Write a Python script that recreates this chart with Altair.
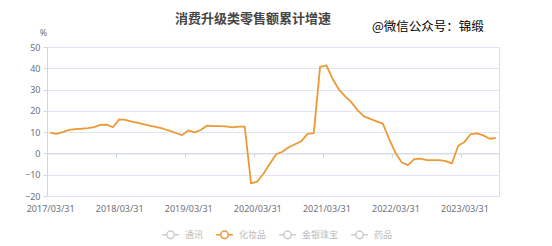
import altair as alt
import pandas as pd

# ---- data ----
years = [2017, 2018, 2019, 2020, 2021, 2022, 2023]
months_by_year = {
    2017: ["03", "04", "05", "06", "07", "08", "09", "10", "11", "12"],
    2018: ["02", "03", "04", "05", "06", "07", "08", "09", "10", "11", "12"],
    2019: ["02", "03", "04", "05", "06", "07", "08", "09", "10", "11", "12"],
    2020: ["02", "03", "04", "05", "06", "07", "08", "09", "10", "11", "12"],
    2021: ["02", "03", "04", "05", "06", "07", "08", "09", "10", "11", "12"],
    2022: ["02", "03", "04", "05", "06", "07", "08", "09", "10", "11", "12"],
    2023: ["02", "03", "04", "05", "06", "07", "08"],
}
month_end = {"02": "28", "03": "31", "04": "30", "05": "31", "06": "30", "07": "31",
             "08": "31", "09": "30", "10": "31", "11": "30", "12": "31"}

v2017 = [9.8, 9.2, 10.0, 11.1, 11.4, 11.6, 11.9, 12.4, 13.4, 13.5]
v2018 = [12.3, 16.0, 15.8, 14.9, 14.3, 13.6, 13.0, 12.4, 11.6, 10.7, 9.6]
v2019 = [8.6, 10.8, 9.9, 11.0, 13.1, 12.8, 12.8, 12.7, 12.2, 12.6, 12.6]
v2020 = [-14.1, -13.2, -9.4, -4.8, -0.4, 0.8, 2.9, 4.3, 5.7, 9.2, 9.5]
v2021 = [40.7, 41.4, 35.0, 30.0, 26.8, 24.0, 20.2, 17.4, 16.2, 15.1, 14.0]
v2022 = [6.8, 0.3, -4.2, -5.5, -2.7, -2.4, -3.1, -3.1, -3.1, -3.6, -4.7]
v2023 = [3.6, 5.4, 9.1, 9.4, 8.5, 6.9, 7.3]

series_names = ["通讯", "化妆品", "金银珠宝", "药品"]
series_colors = ["#cccccc", "#EC9A35", "#cccccc", "#cccccc"]
shown_series = "化妆品"

x_labels = ["2017/03/31", "2018/03/31", "2019/03/31", "2020/03/31",
            "2021/03/31", "2022/03/31", "2023/03/31"]
y_ticks = [-20, -10, 0, 10, 20, 30, 40, 50]

title_text = "消费升级类零售额累计增速"
watermark = "@微信公众号：锦缎"

# ---- build table ----
dates = []
for y in years:
    for m in months_by_year[y]:
        d = month_end[m]
        if m == "02" and y == 2020:
            d = "29"
        dates.append(f"{y}/{m}/{d}")
values = v2017 + v2018 + v2019 + v2020 + v2021 + v2022 + v2023
df = pd.DataFrame({"date": dates, "value": values, "series": shown_series})

FONT = "Noto Sans CJK SC"
NUM_FONT = "Noto Sans"
AXIS_GRAY = "#6E7079"
GRID = "#E0E6F1"
LINE_C = "#CFD6E4"
PLOT_H = 149

x_scale = alt.Scale(type="point", domain=dates, padding=0.5)
y_scale = alt.Scale(domain=[-20, 50], nice=False, zero=False)

y_axis = alt.Axis(values=y_ticks, title="%", titleAngle=0,
                  titleAlign="center", titleBaseline="middle",
                  titleX=-4, titleY=-15, titleColor=AXIS_GRAY,
                  titleFontSize=9, titleFontWeight="normal", titleFont=NUM_FONT,
                  labelFontSize=9, labelColor=AXIS_GRAY, labelFont=NUM_FONT,
                  labelPadding=3, labelOverlap=False, tickSize=4, tickColor=LINE_C,
                  domainColor=LINE_C, grid=True, gridColor=GRID)

line = alt.Chart(df).mark_line(strokeWidth=1.8, strokeJoin="round").encode(
    x=alt.X("date:O", scale=x_scale,
            axis=alt.Axis(values=x_labels, title=None, orient="bottom",
                          labelAngle=0, labelFontSize=9, labelColor=AXIS_GRAY,
                          labelFont=NUM_FONT, labelPadding=8, ticks=False, domain=False,
                          grid=False, labelOverlap=False)),
    y=alt.Y("value:Q", scale=y_scale, axis=y_axis),
    color=alt.Color("series:N",
                    scale=alt.Scale(domain=series_names, range=series_colors),
                    legend=alt.Legend(
                        title=None, orient="none", direction="horizontal",
                        legendX=114, legendY=178,
                        symbolType="M-1,0L-0.45,0M0.45,0L1,0M0.45,0A0.45,0.45,0,1,1,-0.45,0A0.45,0.45,0,1,1,0.45,0Z",
                        symbolSize=279, symbolStrokeWidth=1.5, symbolFillColor="white",
                        labelFontSize=9, labelFont=FONT, labelColor="#bbbbbb",
                        labelOffset=5, columnPadding=9)),
)

# zero axis line with ticks (x axis sits on 0)
zero_axis = alt.Chart(df).mark_line(opacity=0).encode(
    x=alt.X("date:O", scale=x_scale,
            axis=alt.Axis(values=x_labels, title=None, orient="bottom",
                          offset=-PLOT_H * 2 / 7, labels=False, ticks=True,
                          tickSize=4, tickColor=LINE_C, tickOffset=-3,
                          domain=True, domainColor=LINE_C, grid=False)),
    y=alt.Y("value:Q", scale=y_scale, axis=y_axis),
)

wm = alt.Chart(pd.DataFrame({"t": [watermark]})).mark_text(
    align="left", baseline="middle", fontSize=12.5, font=FONT, color="#000000"
).encode(text="t:N", x=alt.value(325), y=alt.value(-20))

chart = alt.layer(zero_axis, line, wm).resolve_axis(x="independent").properties(
    width=452, height=PLOT_H,
    title=alt.TitleParams(title_text, fontSize=13, fontWeight="bold", color="#464646",
                          font=FONT, anchor="middle", dx=-20, offset=-5),
    autosize=alt.AutoSizeParams(type="none"),
    padding={"left": 47, "top": 47, "right": 53, "bottom": 50},
).configure_view(stroke=None).configure(background="white")

chart.save("out.html", embed_options={"renderer": "svg", "actions": False})
